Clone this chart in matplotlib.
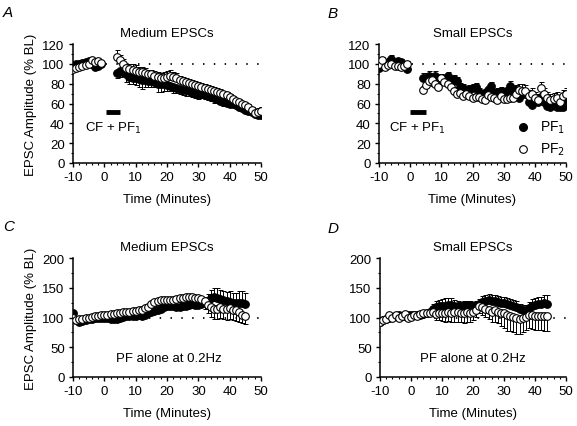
import numpy as np
import matplotlib
matplotlib.use("Agg")
import matplotlib.pyplot as plt
from matplotlib.ticker import MultipleLocator

plt.rcParams['font.family'] = ['Liberation Sans', 'DejaVu Sans']
plt.rcParams['axes.unicode_minus'] = False

# ---------------- data ----------------
tA_base = list(range(-10, 0))
tA_post = list(range(4, 51))
A_pf1 = [98, 100, 100, 101, 102, 103, 100, 97, 98, 100,
         91, 93, 92, 90, 87, 86, 86, 85, 84, 84, 83, 83, 82, 80, 80, 80, 79, 78, 77, 76,
         75, 74, 74, 73, 72, 71, 70, 70, 69, 68, 67, 66, 65, 63, 62, 61, 60, 59, 58, 56,
         55, 53, 52, 51, 49, 48, 48]
A_pf1_err = [2, 2, 2, 2, 2, 2, 3, 3, 2, 2,
             5, 6, 4, 8, 7, 6, 7, 8, 9, 7, 6, 6, 5, 8, 8, 7, 6, 5, 6, 5,
             5, 5, 6, 5, 5, 5, 5, 4, 4, 4, 4, 5, 4, 4, 5, 4, 3, 3, 3, 3,
             3, 3, 3, 3, 3, 3, 3]
A_pf2 = [95, 96, 97, 98, 99, 100, 104, 102, 103, 101,
         107, 104, 100, 96, 95, 94, 93, 92, 92, 91, 90, 90, 88, 87, 86, 86, 87, 88, 87, 86,
         84, 83, 82, 81, 80, 79, 78, 77, 76, 75, 74, 73, 72, 71, 70, 69, 67, 65, 63, 62,
         60, 58, 56, 53, 50, 51, 52]
A_pf2_err = [2, 2, 2, 2, 2, 2, 2, 2, 2, 2,
             7, 5, 5, 4, 5, 6, 6, 5, 5, 5, 4, 4, 5, 5, 5, 6, 6, 6, 5, 5,
             4, 4, 4, 4, 4, 4, 4, 4, 4, 4, 4, 4, 4, 4, 3, 3, 3, 3, 3, 3,
             3, 3, 3, 3, 3, 4, 4]

B_pf1 = [96, 100, 98, 102, 105, 100, 103, 102, 99, 95,
         86, 86, 88, 82, 88, 82, 85, 84, 88, 81, 85, 83, 77, 76, 72, 75, 76, 77, 72, 70,
         71, 74, 78, 71, 72, 73, 72, 73, 78, 73, 74, 66, 70, 70, 62, 58, 64, 62, 66, 62,
         57, 56, 58, 56, 56, 56, 61]
B_pf1_err = [3, 3, 3, 3, 4, 3, 3, 3, 3, 3,
             5, 5, 5, 5, 5, 5, 5, 4, 4, 4, 4, 4, 4, 4, 4, 4, 4, 4, 4, 4,
             4, 4, 4, 4, 4, 4, 4, 4, 5, 5, 5, 5, 5, 5, 5, 5, 5, 5, 5, 5,
             6, 6, 6, 6, 6, 6, 6]
B_pf2 = [100, 104, 97, 99, 100, 98, 98, 97, 98, 100,
         74, 79, 83, 84, 80, 77, 86, 82, 80, 77, 73, 70, 71, 68, 70, 68, 66, 67, 67, 65,
         64, 69, 67, 66, 64, 68, 65, 65, 66, 66, 70, 74, 73, 73, 68, 70, 66, 64, 76, 70,
         66, 64, 65, 66, 62, 68, 70]
B_pf2_err = [3, 3, 3, 3, 3, 3, 3, 3, 3, 3,
             4, 5, 5, 5, 5, 5, 4, 4, 4, 4, 4, 4, 4, 4, 4, 4, 4, 4, 4, 4,
             4, 4, 4, 4, 4, 4, 4, 4, 4, 4, 5, 6, 7, 6, 6, 6, 6, 6, 6, 6,
             6, 6, 6, 6, 6, 6, 6]

tC = list(range(-10, 46))
C_pf1 = [107, 95, 93, 94, 96, 97, 98, 99, 100, 100, 99, 99, 97, 97, 98, 100, 101, 102, 102, 103,
         103, 104, 103, 105, 107, 109, 111, 113, 115, 117, 119, 120, 119, 118, 118, 119, 120, 121, 122, 121,
         121, 122, 124, 128, 133, 134, 133, 131, 129, 127, 126, 124, 124, 124, 125, 122]
C_pf1_err = [3, 2, 2, 2, 2, 2, 2, 2, 3, 3, 3, 5, 3, 3, 3, 3, 3, 3, 3, 3,
             3, 3, 4, 5, 6, 7, 8, 8, 8, 8, 8, 8, 8, 8, 8, 8, 8, 8, 8, 8,
             8, 9, 10, 12, 14, 16, 16, 16, 16, 16, 18, 18, 18, 20, 20, 20]
C_pf2 = [100, 96, 97, 98, 99, 100, 101, 102, 103, 104, 105, 105, 106, 106, 107, 108, 109, 110, 110, 111,
         111, 112, 113, 116, 118, 122, 126, 128, 129, 129, 130, 130, 130, 131, 132, 133, 134, 135, 134, 132,
         133, 131, 127, 121, 117, 115, 115, 117, 115, 114, 116, 113, 112, 110, 105, 103]
C_pf2_err = [3, 2, 2, 2, 2, 2, 2, 2, 2, 2, 2, 2, 2, 2, 2, 2, 2, 2, 2, 2,
             3, 4, 5, 6, 8, 10, 10, 10, 10, 10, 10, 10, 10, 10, 10, 10, 10, 10, 10, 10,
             10, 10, 12, 14, 16, 18, 18, 18, 18, 18, 18, 18, 18, 18, 15, 14]

tD = list(range(-10, 45))
D_pf1 = [92, 95, 97, 99, 101, 102, 104, 103, 103, 104, 104, 104, 105, 105, 106, 107, 110, 115, 118, 119,
         120, 120, 121, 121, 120, 119, 120, 121, 121, 121, 120, 121, 123, 126, 128, 129, 128, 127, 126, 125,
         124, 123, 121, 119, 117, 115, 113, 113, 116, 119, 121, 122, 123, 124, 123]
D_pf1_err = [2, 2, 2, 2, 2, 2, 2, 2, 2, 2, 2, 2, 2, 2, 3, 4, 5, 7, 9, 10,
             11, 12, 12, 12, 10, 8, 6, 6, 6, 6, 6, 6, 8, 10, 10, 10, 10, 10, 10, 10,
             10, 10, 10, 10, 10, 8, 8, 8, 10, 12, 12, 12, 12, 14, 14]
D_pf2 = [92, 96, 98, 104, 100, 104, 100, 102, 106, 100, 101, 104, 103, 106, 107, 108, 108, 110, 106, 107,
         108, 108, 110, 108, 109, 109, 108, 107, 109, 108, 110, 113, 119, 117, 115, 113, 110, 112, 110, 108,
         107, 104, 103, 101, 99, 98, 99, 101, 104, 105, 103, 103, 103, 103, 103]
D_pf2_err = [2, 2, 2, 2, 2, 2, 2, 2, 2, 2, 2, 2, 2, 2, 3, 4, 6, 8, 10, 12,
             14, 15, 16, 16, 16, 16, 16, 16, 16, 16, 14, 12, 12, 12, 14, 16, 18, 20, 20, 22,
             24, 26, 26, 26, 26, 26, 24, 22, 22, 24, 24, 24, 24, 26, 26]

titles = ["Medium EPSCs", "Small EPSCs", "Medium EPSCs", "Small EPSCs"]
letters = ["A", "B", "C", "D"]

# ---------------- figure ----------------
fig = plt.figure(figsize=(5.77, 4.27), dpi=100)
W, H = 577, 427

def make_ax(x0, x1, ybot, ytop):
    return fig.add_axes([x0 / W, (H - ybot) / H, (x1 - x0) / W, (ybot - ytop) / H])

axA = make_ax(73, 261, 164, 45)
axB = make_ax(379, 566, 164, 45)
axC = make_ax(73, 261, 378, 259)
axD = make_ax(380, 566, 378, 259)

fs = 9.5
ms = 5.5

def style(ax, ymax, ystep):
    ax.set_xlim(-10, 50)
    ax.set_ylim(0, ymax)
    ax.spines['top'].set_visible(False)
    ax.spines['right'].set_visible(False)
    for s in ('left', 'bottom'):
        ax.spines[s].set_linewidth(1.1)
    ax.xaxis.set_major_locator(MultipleLocator(10))
    ax.xaxis.set_minor_locator(MultipleLocator(2))
    ax.yaxis.set_major_locator(MultipleLocator(ystep))
    ax.yaxis.set_minor_locator(MultipleLocator(ystep / 2))
    ax.tick_params(which='major', direction='out', length=3, width=1.0, labelsize=fs, pad=3)
    ax.tick_params(which='minor', direction='out', length=1.5, width=0.8)
    ax.set_xlabel("Time (Minutes)", fontsize=fs, labelpad=7)
    ax.plot([-10, 50], [100, 100], color='black', lw=1.3, linestyle=(0, (0.8, 5.2)),
            zorder=1, clip_on=False)

def series(ax, t, y, e, filled, up):
    t = np.asarray(t); y = np.asarray(y, float); e = np.asarray(e, float)
    if up:
        yerr = [np.zeros_like(e), e]
    else:
        yerr = [e, np.zeros_like(e)]
    ax.errorbar(t, y, yerr=yerr, fmt='none', ecolor='black', elinewidth=0.7,
                capsize=1.8, capthick=0.7, zorder=2)
    ax.plot(t, y, 'o', ms=ms, mfc='black' if filled else 'white', mec='black',
            mew=0.8, zorder=4 if not filled else 3, linestyle='none')

# A
style(axA, 120, 20)
tA = tA_base + tA_post
series(axA, tA, A_pf1, A_pf1_err, True, False)
series(axA, tA, A_pf2, A_pf2_err, False, True)
axA.set_ylabel("EPSC Amplitude (% BL)", fontsize=fs, labelpad=4)
axA.plot([0.5, 5], [51, 51], color='black', lw=3.5, solid_capstyle='butt')
axA.text(3, 36, "CF + PF$_1$", fontsize=fs, ha='center', va='center')

# B
style(axB, 120, 20)
series(axB, tA, B_pf1, B_pf1_err, True, True)
series(axB, tA, B_pf2, B_pf2_err, False, True)
axB.plot([0, 5], [51, 51], color='black', lw=3.5, solid_capstyle='butt')
axB.text(2.3, 36, "CF + PF$_1$", fontsize=fs, ha='center', va='center')
axB.plot([36.2], [36], 'o', ms=ms, mfc='black', mec='black', clip_on=False)
axB.plot([36.2], [14], 'o', ms=ms, mfc='white', mec='black', mew=0.8, clip_on=False)
axB.text(41.5, 36, "PF$_1$", fontsize=fs + 0.5, va='center')
axB.text(41.5, 14, "PF$_2$", fontsize=fs + 0.5, va='center')

# C
style(axC, 200, 50)
series(axC, tC, C_pf1, C_pf1_err, True, True)
series(axC, tC, C_pf2, C_pf2_err, False, False)
axC.set_ylabel("EPSC Amplitude (% BL)", fontsize=fs, labelpad=4)
axC.text(20.5, 32, "PF alone at 0.2Hz", fontsize=fs, ha='center', va='center')

# D
style(axD, 200, 50)
series(axD, tD, D_pf1, D_pf1_err, True, True)
series(axD, tD, D_pf2, D_pf2_err, False, False)
axD.text(20, 32, "PF alone at 0.2Hz", fontsize=fs, ha='center', va='center')

# titles and letters
for ax, t in zip([axA, axB, axC, axD], titles):
    ax.set_title(t, fontsize=fs, pad=6)

for (x, y), l in zip([(3, 13), (328, 14), (3, 227), (328, 229)], letters):
    fig.text(x / W, 1 - y / H, l, fontsize=11, style='italic', ha='left', va='center')

fig.savefig("out.png", dpi=100)
